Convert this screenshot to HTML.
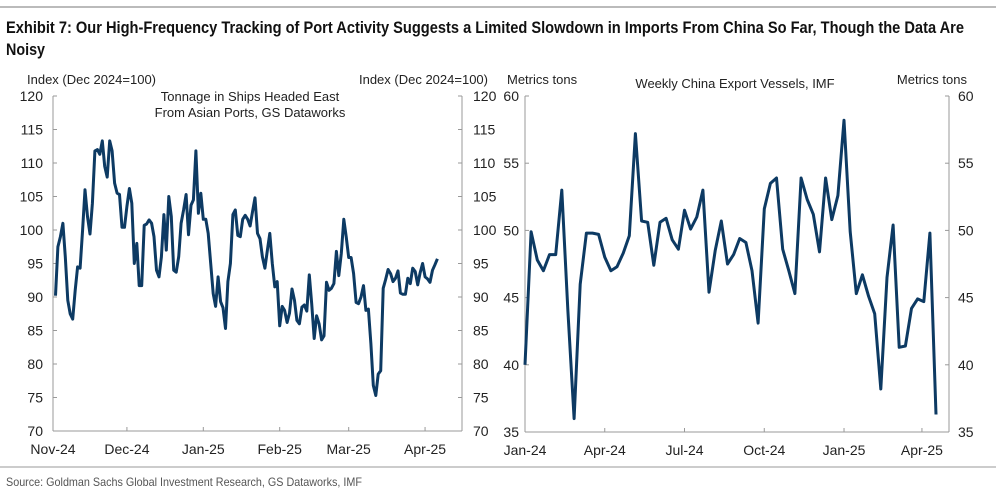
<!DOCTYPE html>
<html><head><meta charset="utf-8">
<style>
html,body{margin:0;padding:0;background:#fff;}
svg{display:block;font-family:"Liberation Sans",sans-serif;}
</style></head>
<body>
<svg id="chart" width="996" height="494" viewBox="0 0 996 494">
<line x1="0" y1="7" x2="996" y2="7" stroke="#777" stroke-width="1"/>
<text x="6" y="33" font-size="17" font-weight="bold" fill="#111" textLength="958" lengthAdjust="spacingAndGlyphs" font-family="'Liberation Sans Narrow','Liberation Sans',sans-serif">Exhibit 7: Our High-Frequency Tracking of Port Activity Suggests a Limited Slowdown in Imports From China So Far, Though the Data Are</text>
<text x="6" y="55" font-size="17" font-weight="bold" fill="#111" textLength="39" lengthAdjust="spacingAndGlyphs" font-family="'Liberation Sans Narrow','Liberation Sans',sans-serif">Noisy</text>
<line x1="0" y1="467" x2="996" y2="467" stroke="#999" stroke-width="1"/>
<text x="6" y="486" font-size="12" fill="#555" textLength="356" lengthAdjust="spacingAndGlyphs" font-family="'Liberation Sans Narrow','Liberation Sans',sans-serif">Source: Goldman Sachs Global Investment Research, GS Dataworks, IMF</text>
<g id="left"></g>
<g id="right"></g>
</svg>
<script>
// Left chart data: daily index values starting Nov 2, 2024 (day 1)
const leftStartDay = 1;
const leftValues = [90.2,97.5,99,101,96,89.5,87.5,86.7,91,94.5,
94.3,100,106,102,99.4,104,111.8,112,111.3,113.3,
109.5,107.9,113.3,111.8,107,105.5,105.3,100.4,100.4,103.5,
106.2,104,95,98,91.7,91.7,100.7,100.9,101.5,101,
99,94,93,96,102.3,97,105,102,94,93.7,
96,101,103,105.3,99.3,103.7,104.5,111.8,102.5,105.5,
101.6,101.6,99.5,95,90.5,88.6,93,89.3,88.4,85.3,
92.3,95,102.3,103,99.2,99,101.6,102.2,101.6,100.6,
102.8,104.8,99.5,98.7,96,94.3,97,99.5,95,91.5,
92.3,85.7,88.6,88,86.2,87.6,91.2,89.5,86.5,86,
88.5,88.8,87.9,93.3,89,83.8,87.2,86,83.6,84.2,
92.2,91,91.3,92,96.8,93.2,96.5,101.6,99,95.9,
95.9,93.5,89.2,89,90,91.7,88,88.2,83,76.8,
75.3,78.5,79,91.3,92.6,94.1,93.5,92.3,92.8,93.9,
90.6,90.4,90.4,92.8,92,94.3,93.8,91.8,93.6,95,
93,92.7,92.2,94,94.8,95.7];
const leftTickLabels = ["Nov-24","Dec-24","Jan-25","Feb-25","Mar-25","Apr-25"];
const leftTickDays = [0,30,61,92,120,151];
const leftYTicks = [70,75,80,85,90,95,100,105,110,115,120];

// Right chart data: weekly values from first week of Jan 2024
const rightValues = [40,49.9,47.8,47.0,48.2,48.2,53.0,44,36,46,
49.8,49.8,49.7,48,47.0,47.3,48.3,49.6,57.2,50.7,
50.6,47.4,50.6,50.9,49.3,48.6,51.5,50.1,51,53,
45.4,48.5,50.7,47.5,48.2,49.4,49.1,47,43.1,51.6,
53.5,53.9,48.6,47,45.3,53.9,52.3,51.2,48.4,53.9,
50.8,52.6,58.2,49.9,45.3,46.7,45.1,43.8,38.2,46.5,
50.4,41.3,41.4,44.2,44.9,44.7,49.8,36.3];
const rightTickLabels = ["Jan-24","Apr-24","Jul-24","Oct-24","Jan-25","Apr-25"];
const rightTickWeeks = [0,13,26,39,52,64.7];
const rightYTicks = [35,40,45,50,55,60];

const NS = "http://www.w3.org/2000/svg";
function mk(parent, tag, attrs, text){
  const e = document.createElementNS(NS, tag);
  for (const k in attrs) e.setAttribute(k, attrs[k]);
  if (text !== undefined) e.textContent = text;
  parent.appendChild(e);
  return e;
}
const AX = "#999", TX = "#222", LINE = "#0d3a63";

// ---------- Left chart ----------
(function(){
  const g = document.getElementById('left');
  const x0 = 53, x1 = 462, yTop = 96, yBot = 431;
  const xs = d => x0 + d * 2.464;
  const ys = v => yBot - (v - 70) / 50 * (yBot - yTop);
  let e;
  e = mk(g,'line',{x1:x0,y1:yTop,x2:x0,y2:yBot,stroke:AX});
  
  
  e = mk(g,'line',{x1:x1,y1:yTop,x2:x1,y2:yBot,stroke:AX});
  
  
  e = mk(g,'line',{x1:x0,y1:yBot,x2:x1,y2:yBot,stroke:AX});
  
  
  leftYTicks.forEach(v=>{
    const y = ys(v);
    mk(g,'line',{x1:x0,y1:y,x2:x0+4,y2:y,stroke:AX});
    mk(g,'line',{x1:x1-4,y1:y,x2:x1,y2:y,stroke:AX});
    e = mk(g,'text',{x:x0-10,y:y+5,'text-anchor':'end','font-size':14,fill:TX},String(v));
    
    
    e = mk(g,'text',{x:x1+11,y:y+5,'text-anchor':'start','font-size':14,fill:TX},String(v));
    
    
  });
  leftTickDays.forEach((d,i)=>{
    const x = xs(d);
    mk(g,'line',{x1:x,y1:yBot,x2:x,y2:yBot-4,stroke:AX});
    e = mk(g,'text',{x:x,y:yBot+23,'text-anchor':'middle','font-size':14,fill:TX},leftTickLabels[i]);
    
    
  });
  e = mk(g,'text',{x:27,y:84,'font-size':13,fill:TX},'Index (Dec 2024=100)');
  
  
  e = mk(g,'text',{x:488,y:84,'text-anchor':'end','font-size':13,fill:TX},'Index (Dec 2024=100)');
  
  
  e = mk(g,'text',{x:250,y:101,'text-anchor':'middle','font-size':13,fill:TX},'Tonnage in Ships Headed East');
  
  
  e = mk(g,'text',{x:250,y:117,'text-anchor':'middle','font-size':13,fill:TX},'From Asian Ports, GS Dataworks');
  
  
  const pts = leftValues.map((v,i)=>xs(leftStartDay+i).toFixed(1)+','+ys(v).toFixed(1)).join(' ');
  e = mk(g,'polyline',{points:pts,fill:'none',stroke:LINE,'stroke-width':3,'stroke-linejoin':'round'});
  
  
})();

// ---------- Right chart ----------
(function(){
  const g = document.getElementById('right');
  const x0 = 525, x1 = 949, yTop = 96, yBot = 432;
  const xs = w => x0 + w * 6.135;
  const ys = v => yBot - (v - 35) / 25 * (yBot - yTop);
  let e;
  e = mk(g,'line',{x1:x0,y1:yTop,x2:x0,y2:yBot,stroke:AX});
  
  
  e = mk(g,'line',{x1:x1,y1:yTop,x2:x1,y2:yBot,stroke:AX});
  
  
  e = mk(g,'line',{x1:x0,y1:yBot,x2:x1,y2:yBot,stroke:AX});
  
  
  rightYTicks.forEach(v=>{
    const y = ys(v);
    mk(g,'line',{x1:x0,y1:y,x2:x0+4,y2:y,stroke:AX});
    mk(g,'line',{x1:x1-4,y1:y,x2:x1,y2:y,stroke:AX});
    e = mk(g,'text',{x:x0-6,y:y+5,'text-anchor':'end','font-size':14,fill:TX},String(v));
    
    
    e = mk(g,'text',{x:x1+9,y:y+5,'text-anchor':'start','font-size':14,fill:TX},String(v));
    
    
  });
  rightTickWeeks.forEach((w,i)=>{
    const x = xs(w);
    mk(g,'line',{x1:x,y1:yBot,x2:x,y2:yBot-4,stroke:AX});
    e = mk(g,'text',{x:x,y:yBot+23,'text-anchor':'middle','font-size':14,fill:TX},rightTickLabels[i]);
    
    
  });
  e = mk(g,'text',{x:507,y:84,'font-size':13,fill:TX},'Metrics tons');
  
  
  e = mk(g,'text',{x:967,y:84,'text-anchor':'end','font-size':13,fill:TX},'Metrics tons');
  
  
  e = mk(g,'text',{x:735,y:88,'text-anchor':'middle','font-size':13,fill:TX},'Weekly China Export Vessels, IMF');
  
  
  const pts = rightValues.map((v,i)=>xs(i).toFixed(1)+','+ys(v).toFixed(1)).join(' ');
  e = mk(g,'polyline',{points:pts,fill:'none',stroke:LINE,'stroke-width':3,'stroke-linejoin':'round'});
  
  
})();
</script>
</body></html>
